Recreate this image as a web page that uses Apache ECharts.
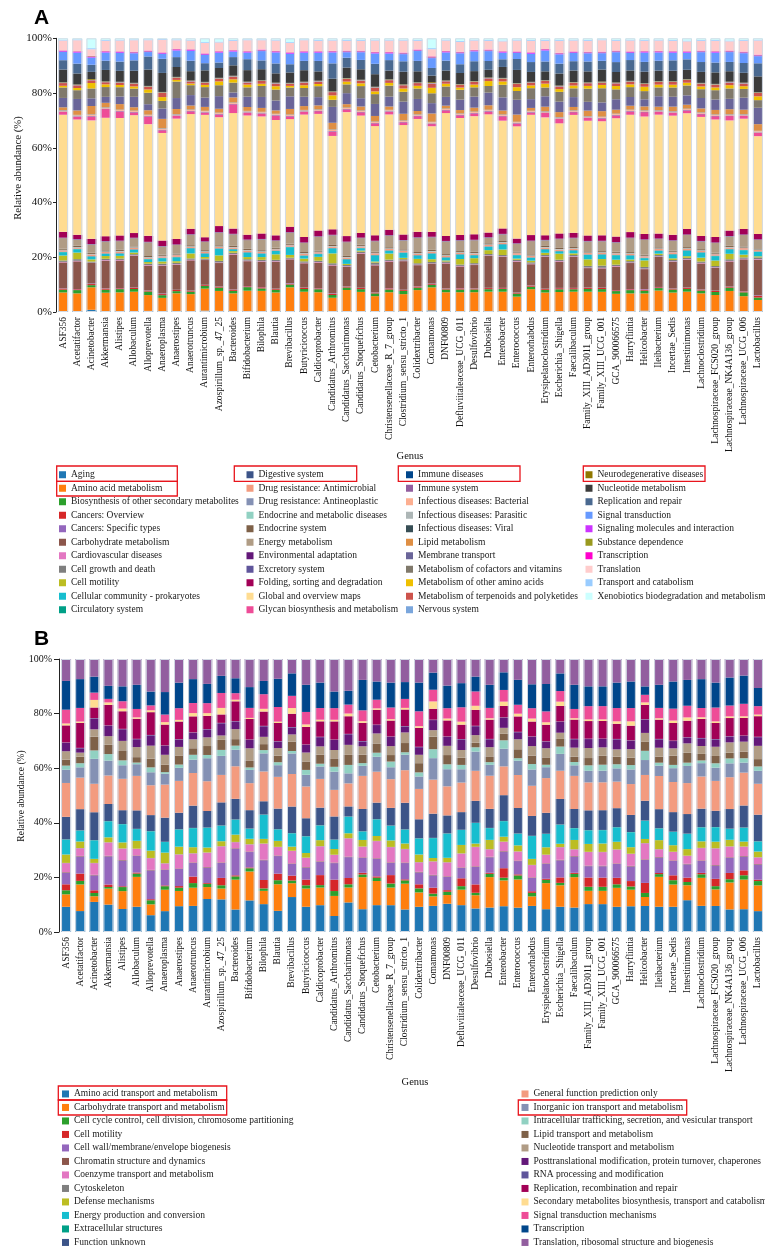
<!DOCTYPE html>
<html>
<head>
<meta charset="utf-8">
<script src="https://cdn.jsdelivr.net/npm/echarts@6/dist/echarts.min.js"></script>
<style>
  html, body { margin: 0; padding: 0; background: #fff; }
  #chart { width: 765px; height: 1249px; }
</style>
</head>
<body>
<div id="chart"></div>
<script>
// ---------- data ----------
const genera = ['ASF356','Acetatifactor','Acinetobacter','Akkermansia','Alistipes','Allobaculum','Alloprevotella','Anaeroplasma','Anaerostipes','Anaerotruncus','Aurantimicrobium','Azospirillum_sp._47_25','Bacteroides','Bifidobacterium','Bilophila','Blautia','Brevibacillus','Butyricicoccus','Caldicoprobacter','Candidatus_Arthromitus','Candidatus_Saccharimonas','Candidatus_Stoquefichus','Cetobacterium','Christensenellaceae_R_7_group','Clostridium_sensu_stricto_1','Colidextribacter','Comamonas','DNF00809','Defluviitaleaceae_UCG_011','Desulfovibrio','Dubosiella','Enterobacter','Enterococcus','Enterorhabdus','Erysipelatoclostridium','Escherichia_Shigella','Faecalibaculum','Family_XIII_AD3011_group','Family_XIII_UCG_001','GCA_900066575','Harryflintia','Helicobacter','Ileibacterium','Incertae_Sedis','Intestinimonas','Lachnoclostridium','Lachnospiraceae_FCS020_group','Lachnospiraceae_NK4A136_group','Lachnospiraceae_UCG_006','Lactobacillus'];

const catsA = ['Aging','Amino acid metabolism','Biosynthesis of other secondary metabolites','Cancers: Overview','Cancers: Specific types','Carbohydrate metabolism','Cardiovascular diseases','Cell growth and death','Cell motility','Cellular community - prokaryotes','Circulatory system','Digestive system','Drug resistance: Antimicrobial','Drug resistance: Antineoplastic','Endocrine and metabolic diseases','Endocrine system','Energy metabolism','Environmental adaptation','Excretory system','Folding, sorting and degradation','Global and overview maps','Glycan biosynthesis and metabolism','Immune diseases','Immune system','Infectious diseases: Bacterial','Infectious diseases: Parasitic','Infectious diseases: Viral','Lipid metabolism','Membrane transport','Metabolism of cofactors and vitamins','Metabolism of other amino acids','Metabolism of terpenoids and polyketides','Nervous system','Neurodegenerative diseases','Nucleotide metabolism','Replication and repair','Signal transduction','Signaling molecules and interaction','Substance dependence','Transcription','Translation','Transport and catabolism','Xenobiotics biodegradation and metabolism'];

const catsB = ['Amino acid transport and metabolism','Carbohydrate transport and metabolism','Cell cycle control, cell division, chromosome partitioning','Cell motility','Cell wall/membrane/envelope biogenesis','Chromatin structure and dynamics','Coenzyme transport and metabolism','Cytoskeleton','Defense mechanisms','Energy production and conversion','Extracellular structures','Function unknown','General function prediction only','Inorganic ion transport and metabolism','Intracellular trafficking, secretion, and vesicular transport','Lipid transport and metabolism','Nucleotide transport and metabolism','Posttranslational modification, protein turnover, chaperones','RNA processing and modification','Replication, recombination and repair','Secondary metabolites biosynthesis, transport and catabolism','Signal transduction mechanisms','Transcription','Translation, ribosomal structure and biogenesis'];

const palette = ['#1F77B4','#FF7F0E','#2CA02C','#D62728','#9467BD','#8C564B','#E377C2','#7F7F7F','#BCBD22','#17BECF','#00A087','#3C5488','#F39B7F','#8491B4','#91D1C2','#7E6148','#B09C85','#631879','#5F559B','#A20056','#FFDC91','#EE4C97','#00468B','#925E9F','#FDAF91','#ADB6B6','#374E55','#DF8F44','#6A6599','#80796B','#EFC000','#CD534C','#7AA6DC','#8F7700','#3B3B3B','#4A6990','#6699FF','#CC33FF','#99991E','#FF00CC','#FFCCCC','#99CCFF','#CCFFFF'];

// panel A (KEGG level 2), relative abundance %, one value per genus
const aAging      = [0.3,0.3,0.8,0.3,0.3,0.3,0.4,0.3,0.3,0.3,0.5,0.4,0.3,0.3,0.3,0.3,0.3,0.3,0.3,0.3,0.3,0.3,0.3,0.3,0.3,0.3,0.6,0.3,0.3,0.3,0.3,0.3,0.3,0.3,0.3,0.3,0.3,0.3,0.3,0.3,0.3,0.5,0.3,0.3,0.3,0.3,0.3,0.3,0.3,0.3];
const aAmino      = [6.8,6.5,8.2,6.8,6.9,7.1,5.8,4.9,6.5,6.2,8.0,7.3,6.5,7.5,7.4,6.8,8.7,7.1,6.9,4.9,7.7,7.0,5.5,6.9,6.2,7.7,8.4,6.9,6.9,6.9,7.1,7.1,5.3,8.0,6.8,7.0,7.1,7.1,7.1,6.3,6.5,6.3,7.5,6.8,7.1,6.5,5.9,7.4,5.5,4.1];
const aBiosyn     = [1.0,1.2,0.8,1.1,1.2,1.0,1.3,1.0,0.8,0.9,1.0,1.2,0.9,1.3,0.9,1.0,1.0,1.0,1.1,1.0,0.9,1.0,1.0,1.0,1.2,0.9,0.9,1.0,1.0,1.0,0.9,1.0,1.1,0.9,1.0,1.0,0.9,1.0,1.0,1.0,1.2,1.0,0.9,1.1,1.0,1.0,1.1,1.2,1.4,0.9];
const aCancerOv   = [0.4,0.3,0.4,0.4,0.3,0.4,0.3,0.4,0.4,0.3,0.3,0.3,0.4,0.3,0.4,0.3,0.3,0.4,0.3,0.4,0.3,0.4,0.3,0.4,0.3,0.4,0.3,0.3,0.4,0.3,0.4,0.3,0.3,0.4,0.3,0.4,0.4,0.4,0.4,0.3,0.3,0.4,0.3,0.3,0.4,0.3,0.4,0.3,0.3,0.6];
const aCancerSp   = [0.1,0.1,0.2,0.1,0.1,0.1,0.1,0.2,0.1,0.1,0.1,0.1,0.1,0.1,0.1,0.1,0.2,0.1,0.1,0.2,0.1,0.1,0.1,0.1,0.1,0.1,0.2,0.1,0.1,0.1,0.1,0.1,0.1,0.1,0.1,0.1,0.1,0.1,0.1,0.1,0.1,0.2,0.1,0.1,0.1,0.1,0.1,0.1,0.1,0.2];
const aCarb       = [9.4,10.1,7.5,10.2,10.1,11.6,9.1,10.2,9.1,11.0,9.0,8.6,12.7,9.1,9.2,9.8,8.7,8.9,9.3,10.2,7.1,12.4,9.9,9.7,10.4,7.7,7.3,9.1,7.9,8.5,11.6,11.3,11.3,7.7,11.6,9.6,11.3,7.1,7.1,8.5,9.5,7.3,10.9,9.7,10.1,9.5,8.3,9.2,11.7,13.1];
const aCardio     = [0.2,0.2,0.1,0.2,0.2,0.2,0.2,0.2,0.2,0.2,0.1,0.2,0.2,0.2,0.2,0.2,0.2,0.2,0.2,0.2,0.2,0.2,0.2,0.2,0.2,0.2,0.1,0.2,0.2,0.2,0.2,0.2,0.2,0.2,0.2,0.2,0.2,0.2,0.2,0.2,0.2,0.2,0.2,0.2,0.2,0.2,0.2,0.2,0.2,0.2];
const aCellGrowth = [0.5,0.6,0.4,0.5,0.5,0.4,0.5,0.6,0.5,0.5,0.4,0.6,0.5,0.5,0.5,0.5,0.4,0.5,0.5,0.6,0.5,0.5,0.8,0.5,0.5,0.5,0.5,0.5,0.5,0.5,0.5,0.5,0.5,0.5,0.5,0.5,0.5,0.6,0.8,0.5,0.5,0.6,0.5,0.5,0.5,0.5,0.5,0.6,0.5,0.6];
const aMotility   = [1.8,2.4,0.8,1.0,1.0,0.6,0.6,0.8,0.6,1.8,0.6,2.0,0.6,0.8,1.0,2.0,1.0,1.0,1.4,3.6,0.4,0.4,0.4,2.2,0.5,1.6,1.0,0.4,2.0,1.8,1.4,2.0,0.4,0.6,0.8,2.2,0.6,2.4,2.4,1.8,0.6,2.4,0.5,0.6,0.6,1.4,2.0,2.0,1.0,0.4];
const aCellular   = [1.2,1.2,1.0,0.8,0.8,1.0,1.0,1.2,1.4,1.8,1.2,2.4,0.6,1.6,1.2,1.2,2.8,1.0,1.0,1.8,1.6,0.8,2.2,1.0,1.8,1.2,2.0,1.0,1.6,1.0,1.2,1.8,1.2,1.0,1.2,0.8,1.0,1.6,1.6,1.6,1.4,0.8,1.0,1.4,2.0,1.8,1.6,1.6,1.6,1.6];
const aCirc       = [0.1,0.1,0.1,0.1,0.1,0.1,0.1,0.1,0.1,0.1,0.1,0.1,0.1,0.1,0.1,0.1,0.1,0.1,0.1,0.1,0.1,0.1,0.1,0.1,0.1,0.1,0.1,0.1,0.1,0.1,0.1,0.1,0.1,0.1,0.1,0.1,0.1,0.1,0.1,0.1,0.1,0.1,0.1,0.1,0.1,0.1,0.1,0.1,0.1,0.1];
const aDigest     = [0.1,0.1,0.1,0.1,0.1,0.1,0.1,0.1,0.1,0.1,0.1,0.1,0.1,0.1,0.1,0.1,0.1,0.1,0.1,0.1,0.1,0.1,0.1,0.1,0.1,0.1,0.1,0.1,0.1,0.1,0.1,0.1,0.1,0.1,0.1,0.1,0.1,0.1,0.1,0.1,0.1,0.1,0.1,0.1,0.1,0.1,0.1,0.1,0.1,0.1];
const aAntimic    = [0.5,0.4,0.6,0.5,0.6,0.5,0.4,0.5,0.6,0.4,0.5,0.5,0.5,0.6,0.5,0.4,0.5,0.6,0.5,0.5,0.5,0.5,0.6,0.5,0.5,0.5,0.6,0.5,0.5,0.5,0.5,0.5,0.6,0.5,0.5,0.5,0.5,0.5,0.5,0.5,0.5,0.5,0.5,0.6,0.5,0.5,0.5,0.5,0.6,0.5];
const aAntineo    = [0.1,0.1,0.1,0.1,0.1,0.1,0.1,0.1,0.1,0.1,0.1,0.1,0.1,0.1,0.1,0.1,0.1,0.1,0.1,0.1,0.1,0.1,0.1,0.1,0.1,0.1,0.1,0.1,0.1,0.1,0.1,0.1,0.1,0.1,0.1,0.1,0.1,0.1,0.1,0.1,0.1,0.1,0.1,0.1,0.1,0.1,0.1,0.1,0.1,0.1];
const aEndoMet    = [0.1,0.1,0.1,0.1,0.1,0.1,0.1,0.1,0.1,0.1,0.1,0.1,0.1,0.1,0.1,0.1,0.1,0.1,0.1,0.1,0.1,0.1,0.1,0.1,0.1,0.1,0.1,0.1,0.1,0.1,0.1,0.1,0.1,0.1,0.1,0.1,0.1,0.1,0.1,0.1,0.1,0.1,0.1,0.1,0.1,0.1,0.1,0.1,0.1,0.1];
const aEndocrine  = [0.4,0.5,0.4,0.4,0.4,0.3,0.4,0.4,0.4,0.4,0.4,0.4,0.4,0.4,0.4,0.4,0.4,0.4,0.4,0.4,0.4,0.4,0.4,0.4,0.4,0.4,0.4,0.4,0.4,0.4,0.4,0.4,0.4,0.4,0.4,0.4,0.4,0.4,0.4,0.4,0.4,0.4,0.4,0.4,0.4,0.4,0.4,0.4,0.4,0.4];
const aEnergy     = [3.8,2.2,3.0,3.2,3.2,3.0,5.0,3.0,3.1,3.8,3.0,4.6,4.2,3.2,3.9,2.5,4.0,3.3,5.0,3.5,5.0,2.4,3.8,4.2,3.2,5.2,4.6,4.6,3.8,4.2,2.0,2.4,2.8,4.8,2.0,3.2,3.2,3.6,3.6,3.3,5.1,5.4,3.0,3.6,4.4,2.8,3.5,3.4,4.2,3.1];
const aEnvAd      = [0.05,0.05,0.05,0.05,0.05,0.05,0.05,0.05,0.05,0.05,0.05,0.05,0.05,0.05,0.05,0.05,0.05,0.05,0.05,0.05,0.05,0.05,0.05,0.05,0.05,0.05,0.05,0.05,0.05,0.05,0.05,0.05,0.05,0.05,0.05,0.05,0.05,0.05,0.05,0.05,0.05,0.05,0.05,0.05,0.05,0.05,0.05,0.05,0.05,0.05];
const aExcret     = [0.15,0.15,0.15,0.15,0.15,0.15,0.15,0.15,0.15,0.15,0.15,0.15,0.15,0.15,0.15,0.15,0.15,0.15,0.15,0.15,0.15,0.15,0.15,0.15,0.15,0.15,0.15,0.15,0.15,0.15,0.15,0.15,0.15,0.15,0.15,0.15,0.15,0.15,0.15,0.15,0.15,0.15,0.15,0.15,0.15,0.15,0.15,0.15,0.15,0.15];
const aFolding    = [2.1,1.6,1.9,1.8,1.9,1.7,2.2,2.0,2.0,2.0,1.5,2.2,1.9,1.8,2.0,1.8,2.0,2.0,2.1,2.0,2.0,1.7,2.0,2.0,2.0,2.0,1.8,1.8,1.9,2.0,1.7,2.0,1.7,2.0,1.7,1.9,1.8,2.0,2.0,2.0,2.0,2.0,1.8,2.0,2.0,1.8,2.0,2.0,2.0,2.0];
const aGlobal     = [42.5,42.1,43.2,43.6,43.1,43.0,40.9,39.6,43.8,41.7,44.5,39.8,42.1,43.6,42.6,42.0,39.2,44.7,42.5,34.1,45.1,42.6,40.0,42.0,39.8,41.2,38.6,44.8,42.6,43.0,43.0,39.3,41.0,43.8,43.0,40.2,43.0,41.8,41.8,43.0,42.9,43.0,43.2,43.5,42.1,43.4,42.9,40.3,40.4,35.8];
const aGlycan     = [1.0,1.0,1.4,3.2,2.4,1.0,2.8,1.0,1.0,1.0,0.8,1.0,3.2,1.0,1.0,1.6,1.0,1.0,1.0,1.6,1.0,1.2,1.0,1.0,1.0,1.0,0.8,1.0,1.0,1.0,1.0,1.6,1.0,0.8,1.6,1.6,1.0,1.0,1.0,1.0,1.2,1.6,1.0,1.0,1.0,1.0,1.2,1.6,1.0,1.2];
const aImmuneDis  = [0.05,0.05,0.05,0.05,0.05,0.05,0.05,0.05,0.05,0.05,0.05,0.05,0.05,0.05,0.05,0.05,0.05,0.05,0.05,0.05,0.05,0.05,0.05,0.05,0.05,0.05,0.05,0.05,0.05,0.05,0.05,0.05,0.05,0.05,0.05,0.05,0.05,0.05,0.05,0.05,0.05,0.05,0.05,0.05,0.05,0.05,0.05,0.05,0.05,0.05];
const aImmuneSys  = [0.15,0.15,0.2,0.15,0.15,0.15,0.15,0.15,0.15,0.15,0.15,0.15,0.15,0.15,0.15,0.15,0.15,0.15,0.15,0.15,0.15,0.15,0.15,0.15,0.15,0.15,0.2,0.15,0.15,0.15,0.15,0.15,0.15,0.15,0.15,0.15,0.15,0.15,0.15,0.15,0.15,0.15,0.15,0.15,0.15,0.15,0.15,0.15,0.15,0.15];
const aInfBact    = [0.3,0.3,0.4,0.3,0.3,0.3,0.3,0.4,0.3,0.3,0.3,0.3,0.3,0.3,0.3,0.3,0.3,0.3,0.3,0.4,0.3,0.3,0.3,0.3,0.3,0.3,0.4,0.3,0.3,0.3,0.3,0.3,0.3,0.3,0.3,0.3,0.3,0.3,0.3,0.3,0.3,0.3,0.3,0.3,0.3,0.3,0.3,0.3,0.3,0.4];
const aInfPar     = [0.1,0.1,0.1,0.1,0.1,0.1,0.1,0.1,0.1,0.1,0.1,0.1,0.1,0.1,0.1,0.1,0.1,0.1,0.1,0.1,0.1,0.1,0.1,0.1,0.1,0.1,0.1,0.1,0.1,0.1,0.1,0.1,0.1,0.1,0.1,0.1,0.1,0.1,0.1,0.1,0.1,0.1,0.1,0.1,0.1,0.1,0.1,0.1,0.1,0.1];
const aInfVir     = [0.1,0.1,0.1,0.1,0.1,0.1,0.1,0.1,0.1,0.1,0.1,0.1,0.1,0.1,0.1,0.1,0.1,0.1,0.1,0.1,0.1,0.1,0.1,0.1,0.1,0.1,0.1,0.1,0.1,0.1,0.1,0.1,0.1,0.1,0.1,0.1,0.1,0.1,0.1,0.1,0.1,0.1,0.1,0.1,0.1,0.1,0.1,0.1,0.1,0.1];
const aLipid      = [1.0,1.6,3.0,1.6,2.0,1.2,1.6,3.4,1.8,1.4,1.4,1.4,1.8,1.4,1.4,1.2,2.0,1.4,1.4,2.4,1.2,1.4,2.0,1.2,2.4,1.2,3.0,1.0,1.2,1.4,1.6,1.4,2.6,1.0,1.6,1.8,1.2,2.0,2.0,1.4,1.4,1.4,1.2,1.6,1.4,1.4,1.6,1.8,1.6,2.4];
const aMembrane   = [3.4,4.2,2.8,2.2,2.8,3.8,2.2,3.8,4.0,3.8,3.4,4.6,1.8,3.8,4.0,3.6,4.6,3.4,3.0,5.8,4.0,3.0,4.4,3.6,4.4,4.4,3.8,3.2,3.8,4.0,4.6,4.8,5.4,3.2,3.8,3.8,3.6,3.2,3.2,3.8,3.2,2.6,3.8,3.6,3.4,3.8,3.8,3.8,4.4,6.0];
const aCofactor   = [3.8,3.2,3.6,3.6,3.4,3.0,4.2,2.8,6.0,3.6,3.8,4.0,3.6,3.4,4.0,4.0,3.2,3.2,4.0,2.6,3.2,4.4,3.6,4.0,3.6,3.8,3.6,3.8,3.6,3.4,2.4,4.6,3.2,4.0,3.2,3.6,3.2,4.8,5.2,3.6,3.6,3.0,3.2,3.4,3.6,3.2,3.4,3.8,3.2,2.8];
const aOtherAA    = [0.6,0.8,2.0,1.0,0.8,0.8,1.2,1.4,0.6,0.6,0.8,1.4,1.2,1.0,0.8,1.2,0.6,1.0,0.8,1.6,1.0,1.0,1.0,1.0,1.2,1.0,2.0,1.0,0.8,1.0,1.8,1.2,1.4,1.0,1.4,1.0,1.0,1.0,1.2,1.2,1.0,1.6,1.0,1.0,1.0,1.0,1.0,1.2,1.0,1.4];
const aTerpen     = [1.0,1.0,1.0,0.8,0.9,1.0,1.0,1.6,0.8,0.8,0.8,1.0,1.0,0.8,1.0,1.0,0.8,1.0,0.9,1.2,1.0,1.0,1.4,1.0,1.2,1.0,1.6,0.9,1.0,1.0,1.0,1.0,1.2,1.0,1.0,1.0,1.0,1.0,0.8,1.0,1.0,1.0,1.0,1.0,1.0,1.0,1.0,1.0,1.0,1.2];
const aNervous    = [0.15,0.15,0.15,0.15,0.15,0.15,0.15,0.15,0.15,0.15,0.15,0.15,0.15,0.15,0.15,0.15,0.15,0.15,0.15,0.15,0.15,0.15,0.15,0.15,0.15,0.15,0.15,0.15,0.15,0.15,0.15,0.15,0.15,0.15,0.15,0.15,0.15,0.15,0.15,0.15,0.15,0.15,0.15,0.15,0.15,0.15,0.15,0.15,0.15,0.15];
const aNeurodeg   = [0.15,0.15,0.3,0.15,0.15,0.15,0.15,0.15,0.15,0.15,0.15,0.15,0.15,0.15,0.15,0.15,0.15,0.15,0.15,0.15,0.15,0.15,0.15,0.15,0.15,0.15,0.3,0.15,0.15,0.15,0.15,0.15,0.15,0.15,0.15,0.15,0.15,0.15,0.3,0.15,0.15,0.15,0.15,0.15,0.15,0.15,0.15,0.15,0.15,0.15];
const aNucleo     = [4.6,4.0,2.6,4.2,4.0,4.4,6.0,7.0,3.6,3.4,4.2,3.6,3.8,4.2,4.0,3.4,3.8,4.2,3.4,4.6,3.8,3.8,4.6,3.2,4.6,4.0,2.4,3.6,4.0,3.6,2.8,4.0,4.8,3.6,3.2,4.4,4.2,4.0,4.4,3.8,3.8,4.2,3.8,3.8,3.4,4.0,4.2,3.8,3.6,5.8];
const aRepl       = [3.4,3.6,2.6,3.4,3.4,3.8,4.8,5.2,3.6,3.8,2.6,2.0,3.0,4.0,3.2,3.6,3.0,3.4,3.8,5.6,3.6,3.4,3.8,3.8,3.8,3.8,2.8,3.6,3.2,3.6,3.2,2.8,4.0,3.6,3.6,3.6,3.4,3.6,3.2,3.6,3.8,3.6,3.6,3.8,3.8,3.6,3.6,3.4,3.6,4.8];
const aSignal     = [3.0,4.0,2.6,3.0,3.2,2.6,1.6,1.8,2.4,3.6,3.0,3.6,2.0,2.4,3.4,4.0,3.8,3.0,3.0,4.0,2.0,2.8,3.8,2.4,2.6,3.6,3.6,3.0,4.0,3.6,3.6,2.4,2.2,3.0,4.0,3.4,3.0,3.0,2.8,3.6,2.6,3.4,3.0,2.8,2.4,3.6,3.6,3.6,3.6,2.6];
const aSignaling  = [0.3,0.3,0.3,0.3,0.3,0.3,0.3,0.3,0.3,0.3,0.3,0.3,0.3,0.3,0.3,0.3,0.3,0.3,0.3,0.3,0.3,0.3,0.3,0.3,0.3,0.3,0.3,0.3,0.3,0.3,0.3,0.3,0.3,0.3,0.3,0.3,0.3,0.3,0.3,0.3,0.3,0.3,0.3,0.3,0.3,0.3,0.3,0.3,0.3,0.3];
const aSubstance  = [0.1,0.1,0.2,0.1,0.1,0.1,0.1,0.1,0.1,0.1,0.1,0.1,0.1,0.1,0.1,0.1,0.1,0.1,0.1,0.1,0.1,0.1,0.1,0.1,0.1,0.1,0.2,0.1,0.1,0.1,0.1,0.1,0.1,0.1,0.1,0.1,0.1,0.1,0.1,0.1,0.1,0.1,0.1,0.1,0.1,0.1,0.1,0.1,0.1,0.1];
const aTranscr    = [0.15,0.15,0.15,0.15,0.15,0.15,0.15,0.15,0.15,0.15,0.15,0.15,0.15,0.15,0.15,0.15,0.15,0.15,0.15,0.15,0.15,0.15,0.15,0.15,0.15,0.15,0.15,0.15,0.15,0.15,0.15,0.15,0.15,0.15,0.15,0.15,0.15,0.15,0.15,0.15,0.15,0.15,0.15,0.15,0.15,0.15,0.15,0.15,0.15,0.15];
const aTransl     = [3.6,4.0,2.4,3.8,4.0,4.2,3.8,4.6,3.2,3.2,3.8,3.2,3.4,4.0,3.4,3.8,3.4,4.0,3.8,3.8,3.6,3.6,4.2,4.2,4.4,3.2,2.6,3.8,3.6,3.4,3.2,3.6,4.0,4.2,3.0,4.4,4.0,4.0,4.2,3.6,4.0,3.8,3.8,3.8,3.6,3.6,3.8,3.4,4.0,5.2];
const aTransport  = [0.3,0.3,0.4,0.3,0.3,0.3,0.3,0.3,0.3,0.3,0.3,0.3,0.3,0.3,0.3,0.3,0.3,0.3,0.3,0.3,0.3,0.3,0.3,0.3,0.3,0.3,0.4,0.3,0.3,0.3,0.3,0.3,0.3,0.3,0.3,0.3,0.3,0.3,0.3,0.3,0.3,0.3,0.3,0.3,0.3,0.3,0.3,0.3,0.3,0.3];
const aXeno       = [0.5,0.4,3.6,0.6,0.5,0.4,0.4,0.3,0.4,0.5,1.4,1.2,0.6,0.4,0.4,0.5,1.4,0.4,0.6,0.5,0.6,0.6,0.5,0.5,0.5,0.6,3.6,0.5,1.0,0.5,0.6,0.8,0.5,0.6,0.6,0.6,0.5,0.6,0.4,0.6,0.5,0.6,0.5,0.6,0.8,0.6,0.6,0.8,0.6,0.5];

// panel B (COG categories), relative abundance %, one value per genus
const bAmino    = [9.3,7.7,11.1,10.1,8.5,9.3,6.2,7.7,9.5,9.6,12.2,12.0,8.3,11.7,10.3,7.8,12.9,9.3,9.9,5.9,10.9,8.4,9.9,9.9,8.3,9.3,9.6,10.4,9.9,8.7,9.0,9.5,9.0,9.6,8.4,9.3,9.0,10.3,10.3,9.3,9.5,9.6,9.3,9.3,11.7,9.6,9.6,8.3,8.4,7.7];
const bCarb     = [4.6,9.8,2.1,5.9,6.6,11.0,4.0,7.9,5.6,6.7,4.4,4.0,11.0,10.7,4.9,9.8,5.1,6.7,6.5,7.4,5.5,11.8,8.9,6.5,9.5,5.3,3.5,3.2,5.7,4.9,11.2,9.5,10.4,3.5,9.6,7.9,11.2,4.9,4.9,7.0,6.1,3.3,11.0,8.2,5.5,10.3,6.1,9.9,10.9,9.5];
const bCycle    = [1.5,1.3,1.2,0.6,1.5,1.2,1.5,1.3,1.2,1.7,1.2,1.2,1.2,1.2,0.9,1.5,1.0,1.2,0.9,1.8,1.2,1.0,1.2,1.5,1.2,1.5,1.0,1.2,1.3,0.9,1.2,1.0,1.5,1.3,1.2,0.9,1.2,1.5,1.5,1.3,1.2,1.5,1.0,1.6,1.2,1.3,1.2,1.2,1.6,1.6];
const bMotility = [2.2,2.7,1.0,0.9,0.3,0.4,0.4,0.3,0.6,2.4,0.3,2.7,0.4,0.3,3.1,2.4,1.8,2.1,3.7,4.2,2.3,0.6,0.5,3.1,0.4,1.5,2.2,0.6,2.9,3.1,0.4,3.5,0.4,0.6,0.4,2.0,0.4,3.4,3.4,2.4,2.0,3.7,0.4,1.8,1.6,0.5,2.7,2.3,1.8,0.5];
const bWall     = [4.3,6.3,5.5,10.4,9.5,6.1,10.6,5.7,6.3,5.0,5.7,5.5,9.8,5.7,7.3,6.5,4.3,4.4,4.9,6.1,7.7,5.5,6.5,4.5,6.0,4.4,4.5,4.9,3.8,6.5,5.7,6.1,4.9,4.9,5.5,6.3,6.0,4.2,4.2,5.1,5.4,8.5,5.7,5.3,4.9,4.4,4.9,5.6,5.1,5.6];
const bChromat  = [0.2,0.2,0.2,0.2,0.2,0.2,0.2,0.2,0.2,0.2,0.2,0.2,0.2,0.2,0.2,0.2,0.2,0.2,0.2,0.2,0.2,0.2,0.2,0.2,0.2,0.2,0.2,0.2,0.2,0.2,0.2,0.2,0.2,0.2,0.2,0.2,0.2,0.2,0.2,0.2,0.2,0.2,0.2,0.2,0.2,0.2,0.2,0.2,0.2,0.2];
const bCoenz    = [3.3,2.8,4.3,4.9,4.2,2.4,4.3,2.2,5.1,3.3,5.3,5.9,2.2,2.6,5.9,3.1,4.6,3.4,5.5,2.8,6.7,3.9,6.3,5.6,4.9,3.5,4.9,5.1,5.1,7.1,2.7,3.4,3.3,4.5,3.1,4.6,2.4,5.0,5.0,5.1,4.4,5.9,2.8,3.1,2.9,4.5,6.1,3.9,3.4,2.4];
const bCyto     = [0.1,0.1,0.1,0.1,0.1,0.1,0.1,0.1,0.1,0.1,0.1,0.1,0.1,0.1,0.1,0.1,0.1,0.1,0.1,0.1,0.1,0.1,0.1,0.1,0.1,0.1,0.1,0.1,0.1,0.1,0.1,0.1,0.1,0.1,0.1,0.1,0.1,0.1,0.1,0.1,0.1,0.1,0.1,0.1,0.1,0.1,0.1,0.1,0.1,0.1];
const bDefense  = [3.1,2.4,1.5,1.8,2.2,2.9,2.7,3.9,2.8,2.2,1.8,1.8,2.7,2.0,1.7,2.2,1.5,1.7,2.2,2.1,1.8,2.4,1.8,2.4,2.0,2.8,1.2,1.6,3.1,1.2,3.4,1.8,2.2,2.2,2.7,1.2,3.4,2.9,3.1,2.8,2.4,1.5,3.3,2.4,2.4,2.4,2.4,2.4,1.8,2.1];
const bEnergy   = [5.5,4.0,6.8,5.9,6.7,4.3,7.1,3.9,6.3,7.0,7.3,5.7,5.5,3.7,8.9,4.2,4.9,6.1,5.4,3.4,6.1,3.1,6.1,5.4,5.1,5.9,7.3,8.9,5.5,7.6,4.3,5.7,4.3,8.4,4.9,7.0,4.3,5.0,4.9,5.3,5.5,6.7,4.3,4.9,5.6,5.1,5.3,4.0,5.1,3.7];
const bExtra    = [0.1,0.1,0.1,0.1,0.1,0.1,0.1,0.1,0.1,0.1,0.1,0.1,0.1,0.1,0.1,0.1,0.1,0.1,0.1,0.1,0.1,0.1,0.1,0.1,0.1,0.1,0.1,0.1,0.1,0.1,0.1,0.1,0.1,0.1,0.1,0.1,0.1,0.1,0.1,0.1,0.1,0.1,0.1,0.1,0.1,0.1,0.1,0.1,0.1,0.1];
const bUnknown  = [8.3,7.8,10.3,6.3,5.1,6.8,5.9,8.9,6.1,8.2,6.1,8.5,7.6,6.8,4.9,7.6,9.8,6.6,6.5,8.5,3.7,8.2,6.1,6.5,9.8,7.0,8.9,6.6,6.5,8.1,7.0,9.5,9.4,7.3,7.7,9.4,7.0,7.3,7.3,7.0,6.3,7.3,7.0,7.2,7.2,6.8,6.0,7.2,8.1,9.8];
const bGeneral  = [12.5,11.6,10.5,10.5,11.6,12.7,11.0,12.2,11.7,12.0,11.0,10.1,12.0,10.0,11.0,11.7,12.0,11.7,10.6,9.8,8.5,12.2,11.4,10.6,12.0,11.2,12.5,10.7,10.9,11.1,12.2,10.6,12.2,11.1,12.8,10.4,12.2,10.3,10.3,9.8,11.4,9.5,12.2,11.1,11.4,11.8,11.0,11.7,12.1,11.4];
const bInorg    = [4.9,3.8,9.2,5.5,5.0,4.3,4.8,4.0,4.8,4.9,8.5,7.0,6.1,4.9,6.7,4.3,7.6,4.3,4.6,6.7,3.7,3.7,5.5,4.4,5.7,4.6,7.9,6.3,4.9,7.1,4.0,6.5,5.3,6.0,4.0,6.2,3.9,4.3,4.3,4.9,5.4,5.5,3.8,5.1,6.3,4.9,4.9,5.1,3.7,4.8];
const bTraffic  = [1.5,1.5,3.1,2.4,1.8,0.6,1.8,0.6,1.2,1.8,1.2,2.2,1.5,0.9,1.2,1.1,0.9,1.8,1.0,1.8,3.1,1.0,1.5,2.1,0.9,1.5,3.3,1.8,1.6,1.6,1.0,3.1,0.9,2.0,0.9,2.7,1.2,2.0,2.2,1.5,1.6,3.4,1.1,1.2,1.2,1.0,1.6,1.8,1.6,1.6];
const bLipid    = [2.2,2.4,5.1,3.5,3.7,2.0,3.2,2.7,3.2,2.4,3.3,3.7,2.4,2.6,2.2,2.4,3.4,3.1,3.3,3.1,3.7,3.1,3.4,2.4,3.4,3.4,4.6,3.4,2.7,1.7,2.1,2.4,3.3,3.1,2.7,2.8,2.0,2.7,3.3,2.8,2.7,3.3,2.2,3.4,3.7,2.4,2.7,2.1,2.4,2.7];
const bNucleo   = [3.1,1.5,2.7,3.1,3.5,3.7,4.8,3.7,3.3,3.3,3.2,1.6,3.7,4.5,2.7,2.8,2.7,3.3,3.1,3.1,3.7,3.1,3.7,3.3,3.9,3.1,2.4,3.4,2.8,2.8,3.4,2.2,3.7,3.5,3.4,2.3,3.3,3.7,3.1,2.7,3.2,3.3,3.3,2.7,3.4,2.9,3.4,3.8,3.7,4.9];
const bPost     = [3.1,1.6,4.0,3.8,4.3,2.9,3.8,3.3,2.7,2.4,2.9,4.5,2.8,3.1,3.9,2.4,2.6,2.8,3.4,3.7,3.9,1.8,3.1,3.4,2.2,2.8,3.7,3.3,3.9,3.3,2.9,3.7,2.6,3.4,2.4,4.0,3.1,3.3,3.1,3.7,3.1,4.9,3.1,2.7,2.1,2.8,2.7,2.1,2.1,3.2];
const bRna      = [0.15,0.15,0.15,0.15,0.15,0.15,0.15,0.15,0.15,0.15,0.15,0.15,0.15,0.15,0.15,0.15,0.15,0.15,0.15,0.15,0.15,0.15,0.15,0.15,0.15,0.15,0.15,0.15,0.15,0.15,0.15,0.15,0.15,0.15,0.15,0.15,0.15,0.15,0.15,0.15,0.15,0.15,0.15,0.15,0.15,0.15,0.15,0.15,0.15,0.15];
const bRepl     = [6.3,9.2,3.9,7.6,6.5,7.4,8.4,7.7,6.5,5.9,4.9,3.1,7.3,7.6,5.3,6.7,4.9,6.5,5.7,6.7,6.5,6.7,5.5,5.9,6.1,7.0,4.0,5.9,5.3,5.9,7.1,4.2,5.7,5.5,6.1,5.7,7.1,6.5,6.5,5.6,5.4,5.3,7.1,6.5,6.1,7.0,5.9,6.7,6.5,7.6];
const bSecond   = [0.7,0.5,2.8,0.9,1.0,0.5,0.7,0.9,0.6,1.2,1.0,2.4,0.6,0.4,1.0,0.5,2.1,0.9,0.6,0.6,1.0,0.6,0.5,0.5,0.6,0.6,2.7,0.7,1.1,1.5,0.5,1.6,1.0,1.1,0.9,1.6,0.5,0.6,0.6,0.9,1.6,0.9,0.5,0.9,1.2,0.6,0.6,0.6,0.6,0.6];
const bSignal   = [5.1,5.0,2.7,1.3,2.7,3.1,1.8,2.8,4.3,3.7,3.7,5.5,2.4,3.7,5.4,5.4,4.5,4.6,4.3,4.3,3.3,4.0,3.2,4.3,3.3,5.5,4.3,3.8,5.3,5.3,3.8,4.3,3.3,3.8,4.0,3.9,3.4,4.9,4.9,4.9,4.9,2.8,3.8,4.4,4.3,3.4,5.1,4.0,4.6,3.1];
const bTranscr  = [10.6,10.6,5.9,4.8,5.5,8.9,5.1,8.3,9.4,8.8,7.1,6.3,5.5,7.7,4.9,10.4,8.3,10.0,9.4,6.1,5.1,11.2,6.7,9.2,6.2,10.6,6.3,8.3,8.9,5.5,8.5,6.5,9.2,8.8,10.1,6.5,8.9,7.3,7.3,9.4,9.8,3.1,8.5,10.0,9.5,10.6,9.2,10.3,10.4,6.7];
const bTransl   = [8.1,7.4,6.5,9.9,10.1,9.5,12.0,12.2,8.7,7.4,9.2,6.2,7.1,10.4,8.1,7.3,5.3,9.5,8.7,12.0,11.7,7.7,8.3,8.7,8.5,8.7,5.0,9.8,8.9,6.5,9.5,4.9,7.7,9.3,9.2,5.3,9.5,10.1,10.1,8.7,8.3,10.1,9.5,8.3,7.7,7.4,8.7,6.8,6.1,10.7];

const valuesA = [aAging,aAmino,aBiosyn,aCancerOv,aCancerSp,aCarb,aCardio,aCellGrowth,aMotility,aCellular,aCirc,aDigest,aAntimic,aAntineo,aEndoMet,aEndocrine,aEnergy,aEnvAd,aExcret,aFolding,aGlobal,aGlycan,aImmuneDis,aImmuneSys,aInfBact,aInfPar,aInfVir,aLipid,aMembrane,aCofactor,aOtherAA,aTerpen,aNervous,aNeurodeg,aNucleo,aRepl,aSignal,aSignaling,aSubstance,aTranscr,aTransl,aTransport,aXeno];
const valuesB = [bAmino,bCarb,bCycle,bMotility,bWall,bChromat,bCoenz,bCyto,bDefense,bEnergy,bExtra,bUnknown,bGeneral,bInorg,bTraffic,bLipid,bNucleo,bPost,bRna,bRepl,bSecond,bSignal,bTranscr,bTransl];

// ---------- helpers ----------
// rescale each genus column so the stack sums to 100 %
function toPercent(rows){
  const tot = genera.map((_, i) => rows.reduce((s, r) => s + r[i], 0));
  return rows.map(r => r.map((v, i) => +(v * 100 / tot[i]).toFixed(3)));
}

const SERIF = '"Liberation Serif", "Times New Roman", serif';
const pctA = toPercent(valuesA);
const pctB = toPercent(valuesB);

function stackSeries(cats, pcts, axis){
  const list = cats.map((name, k) => ({
    name, type: 'bar', stack: 'p' + axis, xAxisIndex: axis, yAxisIndex: axis,
    barWidth: 10, data: pcts[k],
    itemStyle: { color: palette[k] },
    emphasis: { disabled: true }
  }));
  // pale outline around each column
  list.push({
    type: 'bar', xAxisIndex: axis, yAxisIndex: axis, barWidth: 10, barGap: '-100%',
    data: genera.map(() => 100), silent: true, z: 5,
    itemStyle: { color: 'rgba(0,0,0,0)', borderColor: '#d3dae4', borderWidth: 1 }
  });
  return list;
}

function xAxisFor(idx){
  return {
    type: 'category', gridIndex: idx, data: genera,
    axisLine: { show: false }, axisTick: { show: false },
    axisLabel: { interval: 0, rotate: 90, margin: 5, fontFamily: SERIF, fontSize: 9.5, color: '#111' }
  };
}
function yAxisFor(idx, fs, tick, margin){
  return {
    type: 'value', gridIndex: idx, min: 0, max: 100, interval: 20,
    axisLine: { show: true, lineStyle: { color: '#222', width: 1 } },
    axisTick: { show: true, length: tick, lineStyle: { color: '#222' } },
    splitLine: { show: false },
    axisLabel: { formatter: '{value}%', margin, fontFamily: SERIF, fontSize: fs, color: '#111' }
  };
}

function legendCol(names, offset, left, top){
  return {
    type: 'plain', orient: 'vertical', left, top, height: 200, padding: 0, itemGap: 0,
    itemWidth: 7, itemHeight: 7, icon: 'rect', selectedMode: false,
    textStyle: { fontFamily: SERIF, fontSize: 9.5, color: '#1a1a1a', lineHeight: 13.5 },
    data: names.map((n, i) => ({ name: n, itemStyle: { color: palette[offset + i] } }))
  };
}

function redBox(x, y, w, h){
  return { type: 'rect', shape: { x, y, width: w, height: h }, silent: true,
           style: { fill: 'none', stroke: '#e8141c', lineWidth: 1.3 } };
}
function label(text, x, y, font, rot){
  return { type: 'text', x, y, rotation: rot || 0, silent: true,
           style: { text, font, fill: '#111', align: 'center', verticalAlign: 'middle' } };
}

// ---------- chart ----------
const chart = echarts.init(document.getElementById('chart'), null, { renderer: 'canvas' });
chart.setOption({
  animation: false,
  backgroundColor: '#fff',
  grid: [
    { left: 56, top: 38.3, width: 709, height: 273.7 },
    { left: 59, top: 659, width: 712, height: 273 }
  ],
  xAxis: [xAxisFor(0), xAxisFor(1)],
  yAxis: [yAxisFor(0, 11, 3, 4), yAxisFor(1, 10, 5, 7)],
  legend: [
    legendCol(catsA.slice(0, 11), 0, 59, 468),
    legendCol(catsA.slice(11, 22), 11, 246.5, 468),
    legendCol(catsA.slice(22, 33), 22, 406, 468),
    legendCol(catsA.slice(33), 33, 585.5, 468),
    legendCol(catsB.slice(0, 12), 0, 62, 1087.2),
    legendCol(catsB.slice(12), 12, 521.5, 1087.2)
  ],
  series: [...stackSeries(catsA, pctA, 0), ...stackSeries(catsB, pctB, 1)],
  graphic: [
    { type: 'text', left: 34, top: 8, silent: true,
      style: { text: 'A', font: 'bold 21px "Liberation Sans", Arial, sans-serif', fill: '#000' } },
    { type: 'text', left: 34, top: 629, silent: true,
      style: { text: 'B', font: 'bold 21px "Liberation Sans", Arial, sans-serif', fill: '#000' } },
    label('Relative abundance (%)', 18.3, 168, '10.8px ' + SERIF, Math.PI / 2),
    label('Relative abundance (%)', 21, 796, '9.5px ' + SERIF, Math.PI / 2),
    label('Genus', 410, 456, '10.5px ' + SERIF),
    label('Genus', 415, 1082, '10.5px ' + SERIF),
    redBox(56.7, 466, 120.6, 15.3),
    redBox(56.7, 481.3, 120.6, 14.7),
    redBox(234.3, 466, 122.4, 15.3),
    redBox(398.3, 466, 121.7, 15.3),
    redBox(583.3, 466, 121.7, 15.3),
    redBox(58.3, 1086, 168.4, 14),
    redBox(58.3, 1100, 168.4, 15),
    redBox(518.3, 1100, 168.4, 15)
  ]
});
window.addEventListener('resize', () => chart.resize());
</script>
</body>
</html>
